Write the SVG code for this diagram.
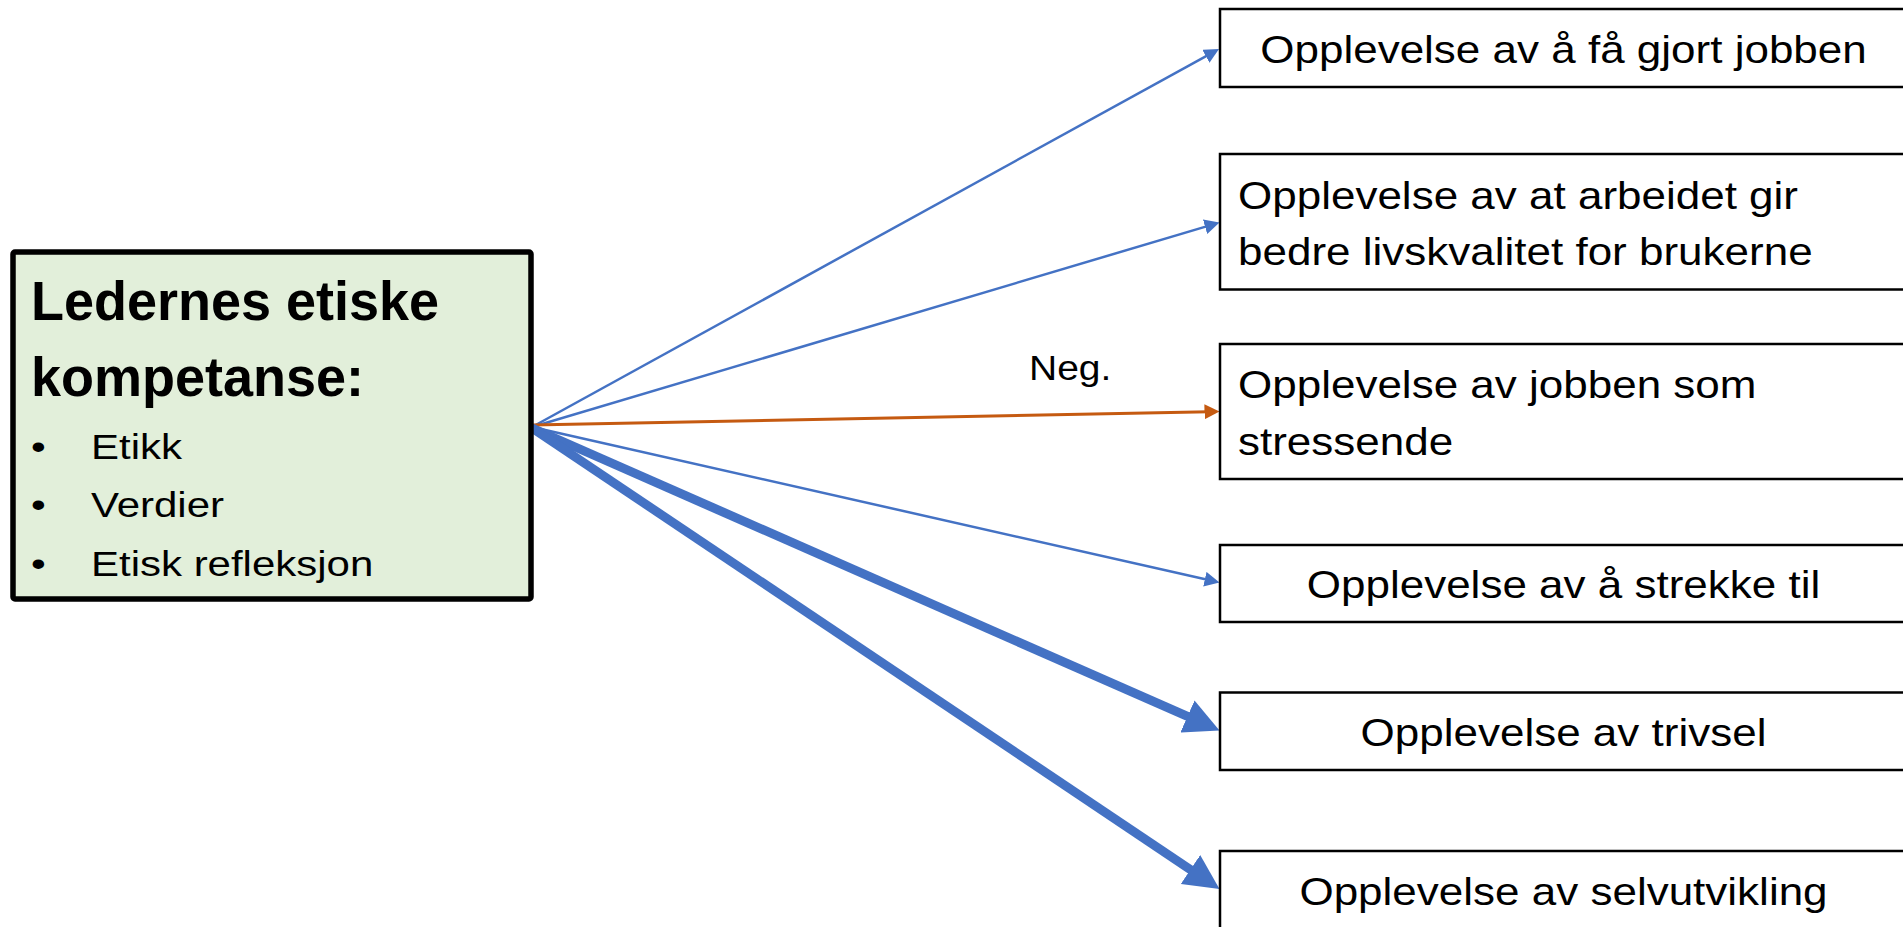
<svg xmlns="http://www.w3.org/2000/svg" width="1903" height="927" viewBox="0 0 1903 927">
<style>
.bg{fill:#ffffff}
.src{fill:#E2EFDA;stroke:#000;stroke-width:5.5}
.box{fill:#ffffff;stroke:#000;stroke-width:2.5}
.t{font-family:"Liberation Sans",Arial,sans-serif;fill:#000}
.title{font-size:54px;font-weight:bold}
.item{font-size:42px}
.lbl{font-size:44px}
.mid{text-anchor:middle}
.neg{font-size:39px}
.thin{stroke:#4472C4;stroke-width:2.5;fill:none;marker-end:url(#ah)}
.orange{stroke:#C55A11;stroke-width:3;fill:none;marker-end:url(#ao)}
.thick{stroke:#4472C4;stroke-width:9;fill:none;marker-end:url(#ahk)}
</style>
<defs>
<marker id="ah" markerUnits="userSpaceOnUse" markerWidth="15" markerHeight="15" viewBox="0 0 15 15" refX="5" refY="7.5" orient="auto"><path d="M0,0 L15,7.5 L0,15 z" fill="#4472C4"/></marker>
<marker id="ao" markerUnits="userSpaceOnUse" markerWidth="15" markerHeight="15" viewBox="0 0 15 15" refX="5" refY="7.5" orient="auto"><path d="M0,0 L15,7.5 L0,15 z" fill="#C55A11"/></marker>
<marker id="ahk" markerUnits="userSpaceOnUse" markerWidth="35" markerHeight="35" viewBox="0 0 35 35" refX="15" refY="17.5" orient="auto"><path d="M0,0 L35,17.5 L0,35 z" fill="#4472C4"/></marker>
</defs>
<rect class="bg" x="0" y="0" width="1903" height="927"/>

<g id="connectors">
<line class="thin" x1="532" y1="427" x2="1210.24" y2="53.82"/>
<line class="thin" x1="532" y1="427" x2="1209.9" y2="225.35"/>
<line class="orange" x1="532" y1="425" x2="1209.5" y2="411.7"/>
<line class="thin" x1="532" y1="427" x2="1209.75" y2="580.3"/>
<line class="thick" x1="532" y1="428" x2="1201.2" y2="722.45"/>
<line class="thick" x1="532" y1="428" x2="1202.9" y2="877.9"/>
<text class="t neg" transform="translate(1029,380) scale(1,0.88)">Neg.</text>
</g>

<g id="source">
<rect class="src" x="13" y="252" width="518" height="347" rx="2"/>
<text class="t title" transform="translate(31,320) scale(1,1.04)">Ledernes etiske</text>
<text class="t title" transform="translate(31,396) scale(1,1.04)">kompetanse:</text>
<text class="t item" transform="translate(31,459) scale(1,0.84)">•</text>
<text class="t item" transform="translate(91,459) scale(1,0.84)">Etikk</text>
<text class="t item" transform="translate(31,517) scale(1,0.84)">•</text>
<text class="t item" transform="translate(91,517) scale(1,0.84)">Verdier</text>
<text class="t item" transform="translate(31,576) scale(1,0.84)">•</text>
<text class="t item" transform="translate(91,576) scale(1,0.84)">Etisk refleksjon</text>
</g>

<g id="n1">
<rect class="box" x="1220" y="9" width="700" height="78"/>
<text class="t lbl mid" transform="translate(1563.5,62.5) scale(1,0.88)">Opplevelse av å få gjort jobben</text>
</g>
<g id="n2">
<rect class="box" x="1220" y="154" width="700" height="135.5"/>
<text class="t lbl" transform="translate(1238,208.5) scale(1,0.88)">Opplevelse av at arbeidet gir</text>
<text class="t lbl" transform="translate(1238,265) scale(1,0.88)">bedre livskvalitet for brukerne</text>
</g>
<g id="n3">
<rect class="box" x="1220" y="344" width="700" height="135"/>
<text class="t lbl" transform="translate(1238,397.5) scale(1,0.88)">Opplevelse av jobben som</text>
<text class="t lbl" transform="translate(1238,455) scale(1,0.88)">stressende</text>
</g>
<g id="n4">
<rect class="box" x="1220" y="545" width="700" height="77"/>
<text class="t lbl mid" transform="translate(1563.5,598) scale(1,0.88)">Opplevelse av å strekke til</text>
</g>
<g id="n5">
<rect class="box" x="1220" y="692.5" width="700" height="77.5"/>
<text class="t lbl mid" transform="translate(1563.5,746) scale(1,0.88)">Opplevelse av trivsel</text>
</g>
<g id="n6">
<rect class="box" x="1220" y="851" width="700" height="100"/>
<text class="t lbl mid" transform="translate(1563.5,905) scale(1,0.88)">Opplevelse av selvutvikling</text>
</g>
</svg>
